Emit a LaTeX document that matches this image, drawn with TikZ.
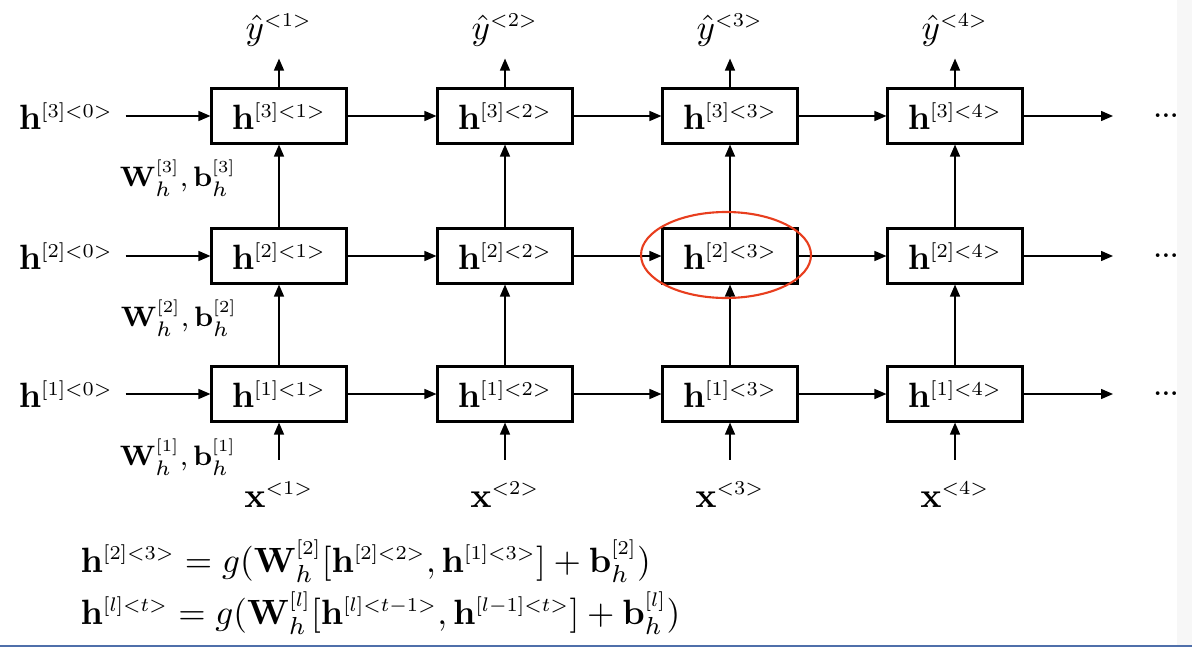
\RequirePackage{fix-cm}
\documentclass[tikz,border=0pt]{standalone}
\usepackage{amsmath}
\usepackage{graphicx}
\usetikzlibrary{arrows.meta,positioning}
\definecolor{rojo}{RGB}{232,62,30}
\definecolor{azulborde}{RGB}{79,111,170}
% superindice compacto
\newcommand{\sx}[1]{^{\scalebox{0.8}{$\scriptstyle #1$}}}
\tikzset{
  celda/.style={draw, semithick, minimum width=13.5mm, minimum height=5.5mm, inner sep=0pt},
  flecha/.style={->, thin},
  param/.style={font=\fontsize{8}{9.6}\selectfont},
}
\begin{document}
\begin{tikzpicture}[x=0.1mm, y=-0.1mm, >={Triangle[length=1.2mm,width=1mm]}]
    \useasboundingbox (0,0) rectangle (1192,649);
    % Borde de la diapositiva
    \fill[black!3] (1177,0) rectangle (1192,645);
    \draw[azulborde, line width=0.15mm] (0,646) -- (1192,646);

    % Celdas h^{[l]<t>}
    \foreach \t/\x in {1/279,2/505,3/730,4/955} {
        \foreach \l/\y in {1/394,2/256,3/116} {
            \node[celda] (h\l\t) at (\x,\y) {$\mathbf{h}\sx{[\l]<\t>}$};
        }
    }

    % Estados iniciales y salidas hacia la derecha
    \foreach \l/\y in {1/394,2/256,3/116} {
        \node (h\l0) at (66,\y) {$\mathbf{h}\sx{[\l]<0>}$};
        \draw[flecha] (h\l0) -- (h\l1);
        \foreach \t [count=\s from 2] in {1,2,3} {
            \draw[flecha] (h\l\t) -- (h\l\s);
        }
        \coordinate (fin\l) at (1113,\y);
        \draw[flecha] (h\l4) -- (fin\l);
        \node[font=\fontsize{6.5}{8}\selectfont\bfseries] (pts\l) at (1166,\y) {...};
    }

    % Entradas, conexiones entre capas y predicciones
    \foreach \t/\x in {1/279,2/505,3/730,4/955} {
        \node (x\t) at (\x,495) {$\mathbf{x}\sx{<\t>}$};
        \node (y\t) at (\x,30) {$\hat{y}\sx{<\t>}$};
        \draw[flecha, shorten <=1mm] (x\t) -- (h1\t);
        \draw[flecha] (h1\t) -- (h2\t);
        \draw[flecha] (h2\t) -- (h3\t);
        \draw[flecha] (h3\t) -- (y\t);
    }

    % Parametros de cada capa
    \node[param] (w3) at (178,178) {$\mathbf{W}_h\sx{[3]}, \mathbf{b}_h\sx{[3]}$};
    \node[param] (w2) at (179,318) {$\mathbf{W}_h\sx{[2]}, \mathbf{b}_h\sx{[2]}$};
    \node[param] (w1) at (178,457) {$\mathbf{W}_h\sx{[1]}, \mathbf{b}_h\sx{[1]}$};

    % Celda destacada
    \draw[rojo, semithick] (726,255) ellipse (8.5mm and 4.3mm);

    % Ecuaciones
    \node[anchor=base west, inner sep=0pt] (ec1) at (80,572)
        {$\mathbf{h}\sx{[2]<3>} = g(\mathbf{W}_h\sx{[2]}[\mathbf{h}\sx{[2]<2>}, \mathbf{h}\sx{[1]<3>}] + \mathbf{b}_h\sx{[2]})$};
    \node[anchor=base west, inner sep=0pt] (ec2) at (80,624)
        {$\mathbf{h}\sx{[l]<t>} = g(\mathbf{W}_h\sx{[l]}[\mathbf{h}\sx{[l]<t-1>}, \mathbf{h}\sx{[l-1]<t>}] + \mathbf{b}_h\sx{[l]})$};
\end{tikzpicture}
\end{document}
